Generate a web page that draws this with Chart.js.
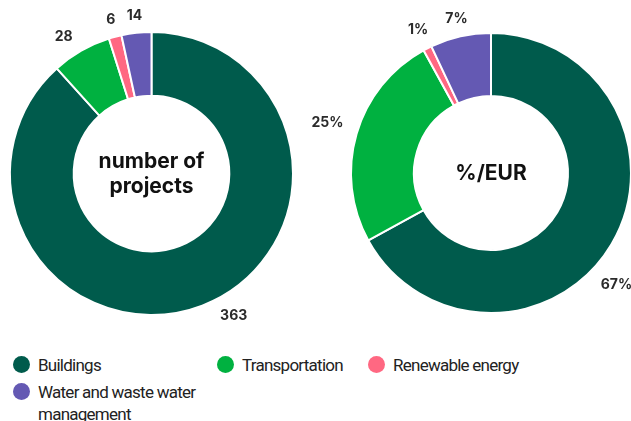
<!DOCTYPE html>
<html lang="en">
<head>
    <meta charset="UTF-8">
    <title>Projects by category</title>
    <script src="https://cdn.jsdelivr.net/npm/chart.js"></script>
    <style>
        body {
            margin: 0;
            width: 631px;
            height: 421px;
            overflow: hidden;
            background: #fff;
            position: relative;
            font-family: Inter, Roboto, sans-serif;
        }
        .chart-box {
            position: absolute;
            top: 0;
            height: 340px;
        }
        #leftBox { left: 0; width: 320px; }
        #rightBox { left: 300px; width: 340px; }
        .legend {
            position: absolute;
            left: 13px;
            top: 354px;
            display: grid;
            grid-template-columns: 204px 151px auto;
            row-gap: 5px;
            font-family: Roboto, sans-serif;
            font-size: 17px;
            letter-spacing: -0.75px;
            color: #222;
        }
        .legend-item {
            display: flex;
            align-items: flex-start;
            line-height: 22px;
        }
        .legend-item .dot {
            width: 17px;
            height: 17px;
            border-radius: 50%;
            margin: 2px 8px 0 0;
            flex: none;
        }
        .legend-item .txt { max-width: 160px; }
    </style>
</head>
<body>
    <div class="chart-box" id="leftBox"><canvas id="projectsChart"></canvas></div>
    <div class="chart-box" id="rightBox"><canvas id="eurChart"></canvas></div>
    <div class="legend" id="legend"></div>

    <script>
        const categories = ["Buildings", "Transportation", "Renewable energy", "Water and waste water management"];
        const projectCounts = [363, 28, 6, 14];
        const eurShares = [67, 25, 1, 7];
        const colors = ["#005b4c", "#00b140", "#ff6882", "#6459b3"];

        // labels just outside the ring, at the middle of each slice
        const outsideLabels = {
            id: "outsideLabels",
            afterDatasetsDraw(chart, args, opts) {
                const ctx = chart.ctx;
                const meta = chart.getDatasetMeta(0);
                const values = chart.data.datasets[0].data;
                ctx.save();
                ctx.font = "bold 14px Inter, Roboto, sans-serif";
                ctx.fillStyle = "#2b2b2b";
                ctx.textAlign = "center";
                ctx.textBaseline = "middle";
                meta.data.forEach((arc, i) => {
                    const p = arc.getProps(["x", "y", "startAngle", "endAngle", "outerRadius"], true);
                    const text = values[i] + (opts.suffix || "");
                    const a = (p.startAngle + p.endAngle) / 2 + (opts.nudge[i] || 0) * Math.PI / 180;
                    const w = ctx.measureText(text).width;
                    const r = p.outerRadius + 16 + Math.abs(Math.cos(a)) * w / 2;
                    ctx.fillText(text, p.x + Math.cos(a) * r, p.y + Math.sin(a) * r);
                });
                ctx.restore();
            }
        };

        const centerText = {
            id: "centerText",
            afterDatasetsDraw(chart, args, opts) {
                const ctx = chart.ctx;
                const arc = chart.getDatasetMeta(0).data[0];
                const lines = opts.lines;
                ctx.save();
                ctx.font = "bold 21px Inter, Roboto, sans-serif";
                ctx.fillStyle = "#111";
                ctx.textAlign = "center";
                ctx.textBaseline = "middle";
                lines.forEach((line, i) => {
                    ctx.fillText(line, arc.x, arc.y + 1 + (i - (lines.length - 1) / 2) * 25);
                });
                ctx.restore();
            }
        };

        function makeDonut(id, values, lines, suffix, nudge, padding) {
            return new Chart(document.getElementById(id), {
                type: "doughnut",
                data: {
                    labels: categories,
                    datasets: [{
                        data: values,
                        backgroundColor: colors,
                        borderColor: "#fff",
                        borderWidth: 2
                    }]
                },
                options: {
                    responsive: true,
                    maintainAspectRatio: false,
                    animation: false,
                    cutout: "55%",
                    layout: { padding: padding },
                    plugins: {
                        legend: { display: false },
                        tooltip: { enabled: false },
                        outsideLabels: { suffix: suffix, nudge: nudge },
                        centerText: { lines: lines }
                    }
                },
                plugins: [outsideLabels, centerText]
            });
        }

        makeDonut("projectsChart", projectCounts, ["number of", "projects"], "", [-9, -3, 0, 0],
            { left: 9, top: 31, right: 26, bottom: 24 });
        makeDonut("eurChart", eurShares, ["%/EUR"], "%", [11, 1, 0, 0],
            { left: 50, top: 32, right: 8, bottom: 26 });

        const legend = document.getElementById("legend");
        categories.forEach((name, i) => {
            const item = document.createElement("div");
            item.className = "legend-item";
            item.innerHTML = '<span class="dot" style="background:' + colors[i] + '"></span><span class="txt">' + name + '</span>';
            legend.appendChild(item);
        });
    </script>
</body>
</html>
